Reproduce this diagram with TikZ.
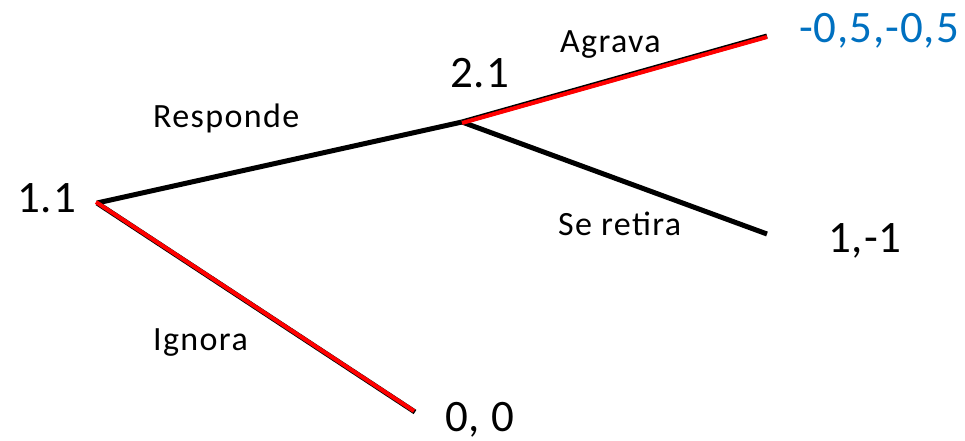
\documentclass[tikz,border=0pt]{standalone}
\usepackage{fontspec}
\setmainfont{Carlito}
\definecolor{payblue}{RGB}{0,112,192}
\begin{document}
\begin{tikzpicture}[x=1pt,y=-1pt,
  big/.style={inner sep=0pt,font=\fontsize{45}{45}\selectfont\addfontfeatures{LetterSpace=2}},
  small/.style={inner sep=0pt,font=\fontsize{34}{34}\selectfont\addfontfeatures{LetterSpace=4}},
  blackedge/.style={line width=5pt,black},
  rededge/.style={line width=4pt,red},
  plain/.style={line width=5pt,black}]
\useasboundingbox (0,0) rectangle (965,441);
\coordinate (n11) at (97,203);
\coordinate (n21) at (462,122);
\coordinate (agr) at (767,36);
\coordinate (ret) at (767,234);
\coordinate (ign) at (415,412);
% branches
\draw[plain] (n11) -- (n21);
\draw[plain] (n21) -- (ret);
\draw[blackedge] (n21) -- (agr);
\draw[rededge] ([yshift=-1pt]n21) -- ([yshift=-1pt]agr);
\draw[blackedge] (n11) -- (ign);
\draw[rededge] ([xshift=-1pt,yshift=1pt]n11) -- ([xshift=-1pt,yshift=1pt]ign);
% labels
\node[big,anchor=base west] (l11) at (17,212) {1.1};
\node[big,anchor=base west] (l21) at (450,88) {2.1};
\node[big,anchor=base west,text=payblue] (pa) at (799,43) {-0,5,-0,5};
\node[big,anchor=base west] (pr) at (828,252) {1,-1};
\node[big,anchor=base west] (pi) at (445,431) {0, 0};
\node[small,anchor=base west] (tresp) at (153,128) {Responde};
\node[small,anchor=base west] (tagr) at (560,53) {Agrava};
\node[small,anchor=base west] (tret) at (558,235) {Se retira};
\node[small,anchor=base west] (tign) at (153,350) {Ignora};
\end{tikzpicture}
\end{document}
